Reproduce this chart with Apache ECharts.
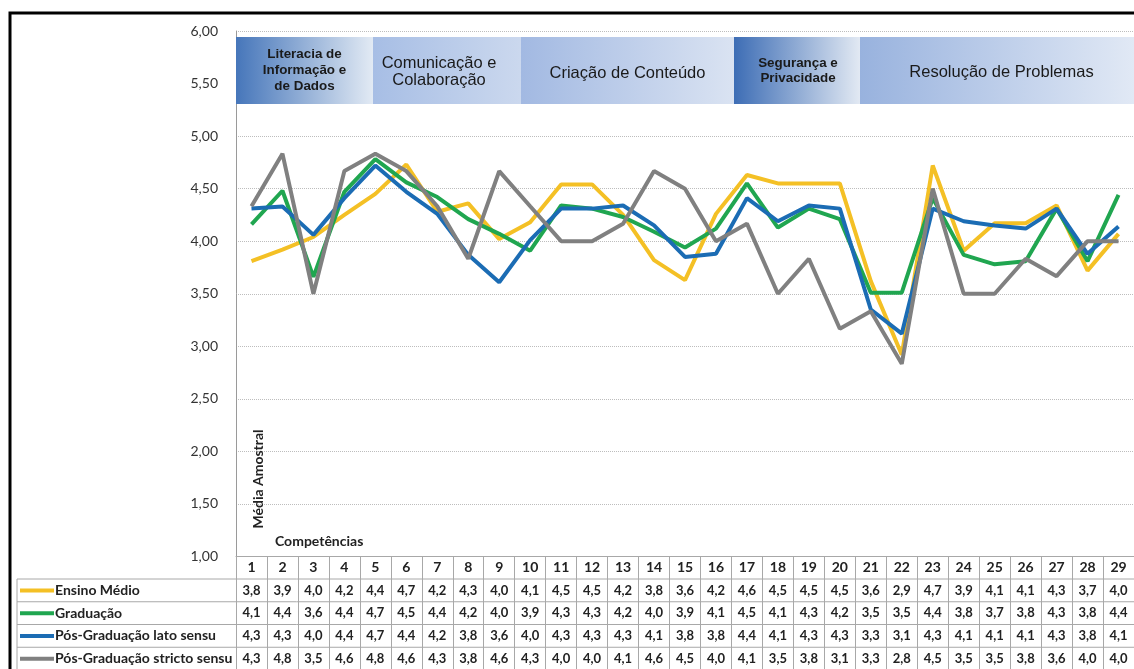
<!DOCTYPE html>
<html>
<head>
<meta charset="utf-8">
<script src="https://cdn.jsdelivr.net/npm/echarts@6/dist/echarts.min.js"></script>
<style>
  html, body { margin: 0; padding: 0; background: #fff; }
  #main { width: 1134px; height: 669px; }
</style>
</head>
<body>
<div id="main"></div>
<script>
// competências 1..29
const categories = ["1","2","3","4","5","6","7","8","9","10","11","12","13","14","15","16","17","18","19","20","21","22","23","24","25","26","27","28","29"];

const seriesNames = ["Ensino Médio", "Graduação", "Pós-Graduação lato sensu", "Pós-Graduação stricto sensu"];
const seriesColors = ["#f4c025", "#20a650", "#1b6cb4", "#808080"];

const ensinoMedio = [3.81, 3.92, 4.04, 4.25, 4.45, 4.73, 4.28, 4.36, 4.02, 4.18, 4.54, 4.54, 4.25, 3.82, 3.63, 4.26, 4.63, 4.55, 4.55, 4.55, 3.62, 2.92, 4.72, 3.91, 4.17, 4.17, 4.34, 3.72, 4.07];
const graduacao = [4.16, 4.48, 3.66, 4.47, 4.78, 4.56, 4.42, 4.21, 4.07, 3.91, 4.34, 4.31, 4.23, 4.09, 3.94, 4.12, 4.55, 4.13, 4.31, 4.21, 3.51, 3.51, 4.41, 3.87, 3.78, 3.81, 4.31, 3.81, 4.44];
const latoSensu = [4.31, 4.33, 4.06, 4.41, 4.72, 4.47, 4.26, 3.87, 3.61, 4.01, 4.31, 4.31, 4.34, 4.15, 3.85, 3.88, 4.41, 4.19, 4.34, 4.31, 3.35, 3.12, 4.31, 4.19, 4.15, 4.12, 4.31, 3.88, 4.14];
const strictoSensu = [4.333, 4.833, 3.5, 4.667, 4.833, 4.667, 4.333, 3.833, 4.667, 4.333, 4.0, 4.0, 4.167, 4.667, 4.5, 4.0, 4.167, 3.5, 3.833, 3.167, 3.333, 2.833, 4.5, 3.5, 3.5, 3.833, 3.667, 4.0, 4.0];

const allSeries = [ensinoMedio, graduacao, latoSensu, strictoSensu];

// faixas de áreas no topo
const groupLabels = ["Literacia de\nInformação e\nde Dados", "Comunicação e\nColaboração", "Criação de Conteúdo", "Segurança e\nPrivacidade", "Resolução de Problemas"];

// layout
const boxEdges = [236, 373, 521, 734, 860, 1145];
const boxStyles = [
  { from: "#4676ba", to: "#e2eaf4", font: "bold 13.4px 'Liberation Sans', Arial", lh: 16, dx: 0, y: 70 },
  { from: "#a7bee5", to: "#cbd8ee", font: "16.5px 'Liberation Sans', Arial", lh: 17, dx: -8, y: 71.5 },
  { from: "#a2b9e2", to: "#dae3f2", font: "16.5px 'Liberation Sans', Arial", lh: 17, dx: 0, y: 73 },
  { from: "#3d6db5", to: "#e2e9f3", font: "bold 13.4px 'Liberation Sans', Arial", lh: 15, dx: 1, y: 71 },
  { from: "#98b2de", to: "#e4ebf6", font: "16.5px 'Liberation Sans', Arial", lh: 17, dx: 1.5, y: 72 }
];
const tableFont = "Lato, 'Open Sans', sans-serif";
const headerTop = 556.5, headerBottom = 579, rowH = 22.75, tableLeft = 17;

const trunc = v => (Math.floor(v * 10 + 1e-6) / 10).toFixed(1).replace(".", ",");

const chart = echarts.init(document.getElementById("main"));

const option = {
  backgroundColor: "#fff",
  animation: false,
  grid: { left: 236, top: 31, width: 29 * 31.15, height: headerTop - 31 },
  xAxis: {
    type: "category",
    data: categories,
    boundaryGap: true,
    axisLine: { show: true, lineStyle: { color: "#a8a8a8", width: 1 } },
    axisTick: { show: true, length: 114, lineStyle: { color: "#a8a8a8", width: 1 } },
    axisLabel: { margin: 4, fontSize: 14, fontWeight: "bold", color: "#222", fontFamily: tableFont, interval: 0 }
  },
  yAxis: {
    type: "value",
    min: 1, max: 6, interval: 0.5,
    axisLine: { show: true, lineStyle: { color: "#9a9a9a", width: 1 } },
    axisTick: { show: false },
    axisLabel: {
      margin: 18, fontSize: 14, color: "#333", fontFamily: tableFont,
      formatter: v => v.toFixed(2).replace(".", ",")
    },
    splitLine: { lineStyle: { color: "#bdbdbd", type: "dotted", width: 1 } }
  },
  series: allSeries.map((d, i) => ({
    name: seriesNames[i],
    type: "line",
    data: d,
    symbol: "none",
    lineStyle: { width: 4, color: seriesColors[i] },
    itemStyle: { color: seriesColors[i] },
    z: 2 + i
  }))
};

chart.setOption(option);

// elementos gráficos: faixas, tabela de dados, títulos
const g = [];

// moldura
g.push({ type: "rect", shape: { x: 10, y: 13, width: 1200, height: 700 },
  style: { fill: null, stroke: "#000", lineWidth: 3 }, z: 100 });

groupLabels.forEach((label, i) => {
  const x0 = boxEdges[i], x1 = boxEdges[i + 1];
  const st = boxStyles[i];
  g.push({
    type: "rect", shape: { x: x0, y: 37, width: x1 - x0, height: 67 },
    style: { fill: new echarts.graphic.LinearGradient(0, 0, 1, 0, [
      { offset: 0, color: st.from }, { offset: 1, color: st.to }]) },
    z: 10
  });
  g.push({
    type: "text", x: (x0 + Math.min(x1, 1140)) / 2 + st.dx, y: st.y,
    style: { text: label, font: st.font, fill: "#1a1a1a", align: "center", verticalAlign: "middle", lineHeight: st.lh },
    z: 11
  });
});

// rótulos dos eixos dentro da área
g.push({ type: "text", x: 258, y: 479, rotation: Math.PI / 2,
  style: { text: "Média Amostral", font: "bold 14px " + tableFont, fill: "#222", align: "center", verticalAlign: "middle" }, z: 20 });
g.push({ type: "text", x: 275, y: 541,
  style: { text: "Competências", font: "bold 14px " + tableFont, fill: "#222", align: "left", verticalAlign: "middle" }, z: 20 });

// linhas da tabela
for (let r = 0; r < 4; r++) {
  const y = headerBottom + r * rowH;
  g.push({ type: "line", shape: { x1: tableLeft, y1: y, x2: 1140, y2: y },
    style: { stroke: "#a8a8a8", lineWidth: 1 }, z: 30 });
}
g.push({ type: "line", shape: { x1: tableLeft, y1: headerBottom, x2: tableLeft, y2: 680 },
  style: { stroke: "#a8a8a8", lineWidth: 1 }, z: 30 });

allSeries.forEach((d, r) => {
  const cy = headerBottom + r * rowH + rowH / 2;
  g.push({ type: "line", shape: { x1: 20, y1: cy, x2: 54, y2: cy },
    style: { stroke: seriesColors[r], lineWidth: 4 }, z: 31 });
  g.push({ type: "text", x: 55, y: cy,
    style: { text: seriesNames[r], font: "bold 14px " + tableFont, fill: "#222", align: "left", verticalAlign: "middle" }, z: 31 });
  d.forEach((v, i) => {
    const cx = chart.convertToPixel({ xAxisIndex: 0 }, i);
    g.push({ type: "text", x: cx, y: cy,
      style: { text: trunc(v), font: "bold 13px " + tableFont, fill: "#222", align: "center", verticalAlign: "middle" }, z: 31 });
  });
});

chart.setOption({ graphic: g });

window.onresize = function() {
  chart.resize();
};
</script>
</body>
</html>
